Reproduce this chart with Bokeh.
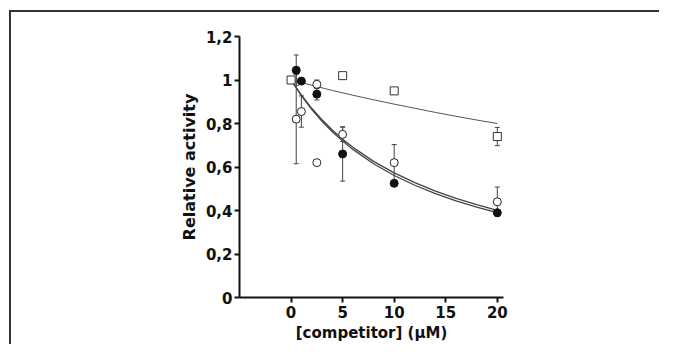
from bokeh.plotting import figure
from bokeh.models import Range1d, FixedTicker, ColumnDataSource, Whisker, TeeHead
from bokeh.embed import file_html
from bokeh.resources import INLINE

# ---- data ----
x_ticks = [0, 5, 10, 15, 20]
y_ticks = [0, 0.2, 0.4, 0.6, 0.8, 1, 1.2]
y_tick_labels = ["0", "0,2", "0,4", "0,6", "0,8", "1", "1,2"]

filled_x = [0.5, 1, 2.5, 5, 10, 20]
filled_y = [1.045, 0.995, 0.935, 0.66, 0.525, 0.39]
filled_err = [0.07, 0.0, 0.027, 0.125, 0.0, 0.0]

open_x = [0.5, 1, 2.5, 2.5, 5, 10, 20]
open_y = [0.82, 0.855, 0.98, 0.62, 0.75, 0.62, 0.44]
open_err = [0.205, 0.072, 0.02, 0.0, 0.033, 0.083, 0.068]

square_x = [0, 5, 10, 20]
square_y = [1.0, 1.02, 0.95, 0.74]
square_err = [0.0, 0.0, 0.0, 0.042]

curve_x = [0, 1, 2, 3, 4, 5, 6, 8, 10, 12, 14, 16, 18, 20]
fit_filled_y = [1.0, 0.928, 0.865, 0.810, 0.762, 0.719, 0.681, 0.615, 0.561, 0.516, 0.478, 0.444, 0.416, 0.390]
fit_open_y = [1.0, 0.931, 0.870, 0.817, 0.770, 0.728, 0.691, 0.626, 0.573, 0.528, 0.489, 0.456, 0.427, 0.401]

square_curve_x = [0, 2, 4, 6, 8, 10, 12, 14, 16, 18, 20]
fit_square_y = [1.0, 0.976, 0.952, 0.930, 0.909, 0.889, 0.870, 0.851, 0.833, 0.816, 0.80]

FONT = "DejaVu Sans"

# ---- figure ----
p = figure(width=659, height=344, output_backend="svg", toolbar_location=None,
           x_range=Range1d(-5.0, 20.6), y_range=Range1d(0, 1.2),
           min_border_left=239, min_border_right=156,
           min_border_top=36, min_border_bottom=46,
           styles={"background-color": "white",
                   "background-image": "linear-gradient(#333, #333), linear-gradient(#333, #333)",
                   "background-size": "2px 100%, 100% 2px",
                   "background-position": "9px 10px, 9px 10px",
                   "background-repeat": "no-repeat"})
p.outline_line_color = None
p.xgrid.visible = False
p.ygrid.visible = False
p.background_fill_color = None
p.border_fill_color = None

for ax in (p.xaxis[0], p.yaxis[0]):
    ax.axis_line_width = 2
    ax.axis_line_color = "#111"
    ax.major_tick_line_width = 2
    ax.major_tick_line_color = "#111"
    ax.major_tick_out = 5
    ax.major_tick_in = 0
    ax.minor_tick_line_color = None
    ax.major_label_text_font = FONT
    ax.major_label_text_font_style = "bold"
    ax.major_label_text_font_size = "15px"
    ax.major_label_text_color = "#111"
    ax.axis_label_text_font = FONT
    ax.axis_label_text_font_style = "bold"
    ax.axis_label_text_color = "#111"

p.xaxis.axis_label_text_font_size = "15px"
p.yaxis.axis_label_text_font_size = "16px"
p.xaxis.ticker = FixedTicker(ticks=x_ticks)
p.yaxis.ticker = FixedTicker(ticks=y_ticks)
p.yaxis.major_label_overrides = {t: l for t, l in zip(y_ticks, y_tick_labels)}
p.xaxis.axis_label = "[competitor] (\u03bcM)"
p.yaxis.axis_label = "Relative activity"
p.xaxis.major_label_standoff = 3
p.yaxis.major_label_standoff = 2
p.xaxis.axis_label_standoff = 3
p.yaxis.axis_label_standoff = 4

# fitted curves
p.line(square_curve_x, fit_square_y, line_color="#555", line_width=1)
p.line(curve_x, fit_filled_y, line_color="#444", line_width=1.3)
p.line(curve_x, fit_open_y, line_color="#444", line_width=1.3)

# error bars
def add_err(xs, ys, es):
    xx, lo, hi = [], [], []
    for x, y, e in zip(xs, ys, es):
        if e > 0:
            xx.append(x); lo.append(y - e); hi.append(y + e)
    src = ColumnDataSource(dict(base=xx, lower=lo, upper=hi))
    w = Whisker(source=src, base="base", lower="lower", upper="upper",
                line_color="#444", line_width=1,
                lower_head=TeeHead(size=5, line_color="#444", line_width=1),
                upper_head=TeeHead(size=5, line_color="#444", line_width=1))
    p.add_layout(w)

add_err(filled_x, filled_y, filled_err)
add_err(open_x, open_y, open_err)
add_err(square_x, square_y, square_err)

# markers
p.scatter(square_x, square_y, marker="square", size=8, fill_color="white",
          line_color="#333", line_width=1)
p.scatter(open_x, open_y, marker="circle", size=8, fill_color="white",
          line_color="#222", line_width=1)
p.scatter(filled_x, filled_y, marker="circle", size=8, fill_color="#111",
          line_color="#111", line_width=1)

open("out.html", "w").write(file_html(p, INLINE))
